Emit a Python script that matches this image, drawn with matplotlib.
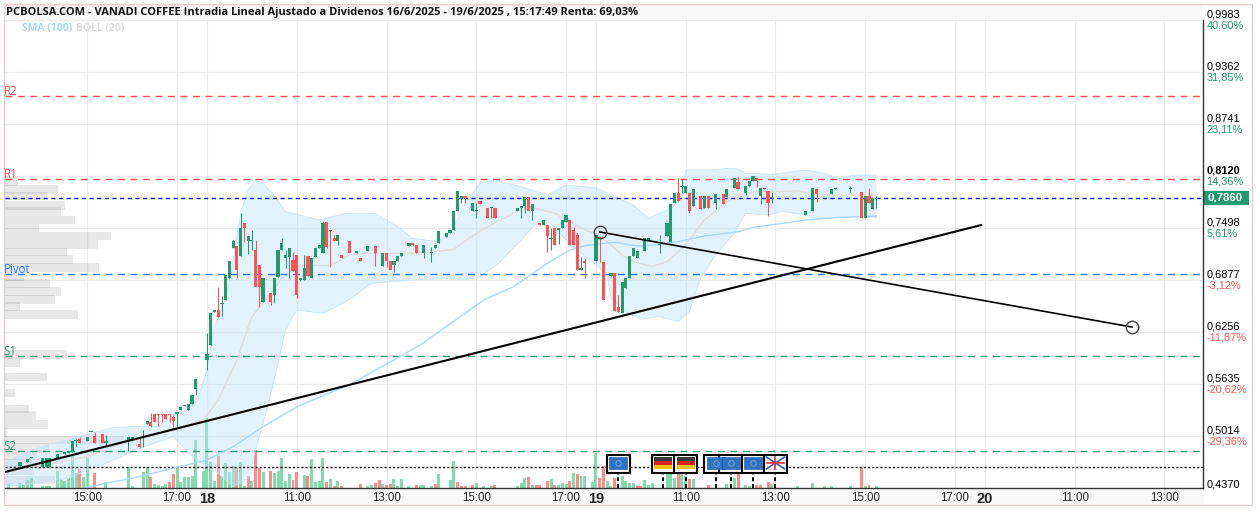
import matplotlib
matplotlib.use("Agg")
import matplotlib.pyplot as plt
from matplotlib.patches import Rectangle

FIG_W, FIG_H = 1257, 512
GREEN = "#22996e"
RED = "#ff5252"
PRICE_TOP = 0.9983
PRICE_BOTTOM = 0.4395

# candles, slot = one 5 minute bar
slots = [4, 6, 7, 10, 11, 12, 14, 16, 17, 18, 19, 20, 22, 23, 24, 26, 27, 33, 34, 36, 37, 38, 39, 40, 41, 42, 43, 44, 45, 46,
         47, 48, 49, 50, 51, 54, 55, 56, 57, 58, 59, 60, 61, 62, 63, 64, 65, 66, 67, 68, 69, 71, 72, 73, 74, 75, 76, 77, 78, 79,
         80, 81, 82, 83, 84, 85, 86, 87, 88, 89, 90, 92, 94, 95, 97, 99, 101, 102, 103, 104, 105, 106, 108, 109, 110, 112, 114, 115, 116, 118,
         119, 120, 121, 122, 123, 125, 126, 127, 129, 130, 131, 137, 138, 139, 140, 141, 143, 144, 145, 146, 147, 148, 149, 150, 151, 152, 153, 154, 155, 158,
         159, 160, 162, 163, 164, 165, 166, 167, 168, 169, 171, 172, 175, 177, 178, 179, 180, 181, 182, 183, 184, 186, 187, 188, 190, 192, 193, 195, 196, 198,
         199, 200, 201, 202, 203, 204, 205, 214, 216, 217, 221, 222, 226, 229, 230, 231, 232, 233]
opens = [.4662, .4702, .4749, .4642, .4642, .4642, .4749, .4801, .4809, .4829, .4960, .4976, .4956, .5060, .5020, .5036, .4936, .4956, .4964, .4920, .5000, .5163, .5179, .5275, .5275, .5275, .5275, .5275, .5243, .5275,
         .5322, .5374, .5326, .5398, .5577, .5923, .6103, .6500, .6520, .6590, .6640, .6899, .7257, .7285, .7165, .7555, .7344, .7340, .7237, .7058, .6612, .6719, .6700, .6910, .7237, .7145, .7149, .7117, .7177, .6879,
         .6879, .7165, .6906, .7149, .7261, .7197, .7567, .7472, .7376, .7344, .7173, .7344, .7205, .7137, .7225, .7285, .7046, .7197, .7105, .7058, .7105, .7165, .7285, .7316, .7296, .7205, .7195, .7257, .7324, .7396,
         .7444, .7476, .7702, .7846, .7882, .7702, .7700, .7822, .7742, .7735, .7742, .7706, .7742, .7766, .7874, .7702, .7563, .7535, .7535, .7370, .7503, .7476, .7496, .7575, .7595, .7476, .7416, .6998, .7105, .7106,
         .7396, .7090, .6927, .6959, .6553, .6481, .6787, .6899, .7169, .7138, .7225, .7356, .7300, .7404, .7329, .7802, .7914, .7990, .7914, .7914, .7766, .7882, .7735, .7882, .7794, .7902, .7874, .7981, .8053, .7914,
         .8001, .8061, .8093, .7882, .7973, .7942, .7860, .7655, .7703, .7965, .7902, .7965, .7960, .7934, .7623, .7886, .7727, .7850]
highs = [.4702, .4737, .4761, .4749, .4749, .4749, .4797, .4829, .4837, .4956, .4976, .5000, .5004, .5068, .5060, .5036, .5028, .5004, .5004, .4996, .5088, .5195, .5295, .5275, .5275, .5275, .5275, .5275, .5267, .5299,
         .5362, .5386, .5394, .5505, .5697, .6242, .6481, .6520, .6791, .6692, .6938, .7105, .7352, .7285, .7675, .7555, .7404, .7476, .7356, .7058, .6899, .6719, .6899, .7237, .7376, .7237, .7257, .7217, .7177, .6899,
         .7177, .7165, .7137, .7257, .7293, .7575, .7567, .7476, .7416, .7416, .7173, .7344, .7225, .7137, .7285, .7285, .7197, .7197, .7105, .7105, .7165, .7197, .7316, .7316, .7296, .7296, .7277, .7293, .7464, .7436,
         .7476, .7702, .7941, .7882, .7882, .7798, .7794, .7822, .7742, .7754, .7742, .7742, .7766, .7866, .7874, .7786, .7563, .7595, .7535, .7496, .7503, .7496, .7595, .7655, .7595, .7515, .7456, .7157, .7137, .7416,
         .7396, .7090, .6959, .6959, .6700, .6851, .6899, .7165, .7257, .7225, .7376, .7376, .7416, .7555, .7786, .7914, .8093, .8085, .8001, .7914, .7965, .7882, .7882, .7882, .7902, .7902, .7965, .8093, .8113, .8001,
         .8061, .8121, .8093, .7973, .7973, .7942, .7934, .7703, .7981, .7965, .7965, .7977, .8001, .7934, .7886, .7973, .7854, .7882]
lows = [.4662, .4702, .4749, .4642, .4642, .4642, .4749, .4801, .4809, .4829, .4889, .4928, .4956, .5060, .4928, .4936, .4909, .4837, .4964, .4869, .4889, .5163, .5135, .5183, .5135, .5187, .5215, .5187, .5127, .5127,
         .5322, .5374, .5326, .5398, .5505, .5804, .6103, .6500, .6437, .6453, .6640, .6899, .7257, .6899, .7165, .7336, .7189, .7237, .6791, .6552, .6612, .6580, .6600, .6910, .7237, .7018, .6899, .6986, .6660, .6866,
         .6879, .6926, .6906, .7149, .7261, .7197, .7257, .7038, .7344, .7296, .7141, .7197, .7205, .7109, .7225, .7046, .7046, .7038, .6998, .6978, .7105, .7165, .7285, .7296, .7197, .7137, .7098, .7257, .7324, .7396,
         .7444, .7476, .7702, .7794, .7794, .7702, .7615, .7786, .7615, .7615, .7615, .7706, .7615, .7675, .7702, .7595, .7535, .7535, .7217, .7237, .7296, .7308, .7496, .7575, .7296, .7296, .6998, .6998, .6899, .7106,
         .7098, .6640, .6927, .6513, .6501, .6481, .6787, .6899, .7169, .7138, .7225, .7356, .7197, .7404, .7329, .7802, .7822, .7914, .7914, .7675, .7766, .7727, .7735, .7735, .7727, .7782, .7874, .7981, .7965, .7894,
         .8001, .8061, .7993, .7782, .7965, .7647, .7794, .7655, .7703, .7814, .7902, .7965, .7934, .7615, .7623, .7794, .7727, .7735]
closes = [.4702, .4737, .4761, .4749, .4749, .4749, .4797, .4829, .4837, .4956, .4972, .4928, .5004, .5068, .4928, .4936, .4956, .5004, .5004, .4889, .5010, .5195, .5135, .5183, .5267, .5267, .5215, .5267, .5199, .5299,
         .5362, .5386, .5394, .5505, .5697, .5995, .6481, .6520, .6437, .6600, .6938, .7105, .7348, .6998, .7496, .7496, .7404, .7350, .6791, .6799, .6899, .6612, .6899, .7237, .7324, .7177, .7257, .6986, .6700, .6899,
         .7018, .6926, .7137, .7257, .7293, .7555, .7277, .7464, .7344, .7416, .7141, .7197, .7225, .7109, .7285, .7205, .7197, .7109, .6998, .7105, .7165, .7197, .7316, .7296, .7197, .7296, .7205, .7293, .7464, .7436,
         .7476, .7702, .7941, .7882, .7854, .7798, .7710, .7786, .7615, .7745, .7615, .7742, .7766, .7866, .7702, .7786, .7535, .7595, .7404, .7380, .7296, .7496, .7595, .7655, .7296, .7296, .6998, .7026, .7086, .7416,
         .7368, .6640, .6959, .6513, .6501, .6851, .6899, .7165, .7257, .7225, .7376, .7376, .7310, .7555, .7786, .7914, .7822, .8000, .8001, .7703, .7965, .7727, .7882, .7735, .7902, .7782, .7965, .8093, .7965, .8001,
         .8061, .8121, .8061, .7973, .7965, .7794, .7870, .7703, .7981, .7902, .7965, .7977, .7970, .7623, .7886, .7794, .7854, .7860]

# volume per slot
vol_up_slots = [1, 4, 5, 6, 7, 10, 11, 12, 14, 15, 16, 17, 18, 19, 21, 22, 27, 33, 34, 37, 38, 40, 41, 42, 43, 46, 47, 48, 49, 50, 51, 53, 54, 55, 56, 58, 59, 60, 61, 63, 64, 66, 69,
                72, 73, 74, 75, 76, 80, 82, 83, 84, 85, 87, 89, 97, 98, 101, 104, 105, 106, 108, 111, 112, 114, 116, 119, 120, 126, 128, 130, 137, 138, 139, 141, 146, 148, 149, 150, 152, 154, 155,
                157, 158, 161, 162, 165, 166, 167, 168, 171, 172, 173, 177, 178, 179, 181, 182, 184, 193, 195, 198, 199, 205, 212, 216, 219, 221, 226, 230, 233]
vol_up = [4, 5, 3, 8, 10, 2, 2, 2, 17, 8, 7, 10, 32, 15, 11, 31, 6, 21, 2, 16, 21, 4, 3, 2, 4, 21, 6, 11, 11, 12, 48, 17, 71, 26, 7, 12, 25, 16, 22, 26, 2, 7, 16,
          15, 17, 30, 7, 14, 13, 29, 6, 7, 30, 9, 7, 2, 3, 4, 9, 2, 9, 2, 3, 3, 2, 14, 8, 27, 5, 2, 2, 2, 5, 10, 3, 9, 3, 5, 4, 15, 12, 12,
          6, 35, 7, 2, 12, 7, 5, 5, 8, 3, 5, 16, 16, 10, 16, 12, 9, 4, 10, 3, 2, 4, 2, 5, 2, 2, 2, 2, 2]
vol_down_slots = [20, 24, 39, 44, 45, 57, 62, 65, 67, 68, 71, 77, 78, 81, 86, 88, 90, 95, 99, 100, 102, 103, 110, 115, 121, 122, 123, 125, 131, 140, 142, 143, 145, 147, 151, 153,
                  159, 160, 163, 169, 170, 180, 183, 188, 196, 201, 202, 204, 229, 231]
vol_down = [19, 15, 11, 6, 14, 32, 20, 12, 38, 20, 17, 8, 16, 12, 6, 2, 2, 4, 5, 8, 3, 4, 3, 4, 6, 2, 2, 3, 3, 11, 3, 3, 7, 3, 7, 14,
            10, 22, 10, 2, 2, 14, 9, 3, 16, 3, 3, 6, 21, 3]

# volume profile down the left edge: level and width in slots
profile_price = [.8057, .7961, .7882, .7770, .7695, .7595, .7499, .7404, .7304, .7213, .7125, .7030, .6922, .6839, .6743, .6648, .6560, .6469,
                 .5991, .5896, .5720, .5529, .5338, .5259, .5155, .5060, .4968, .4876, .4781, .4690, .4602, .4490]
profile_width = [3.4, 14.1, 11.2, 16, 15, 18.7, 9.1, 28.3, 24.9, 16.6, 18.2, 25, 5.2, 12.1, 15, 13.5, 4.1, 19.4,
                 16.6, 4.1, 11.2, 2.7, 6.3, 8.4, 11.4, 0.5, 31.9, 11.7, 8.6, 7.7, 7.7, 13.5]

# indicator curves
upper_slots = [0, 4, 10, 17, 23, 29, 34, 41, 45, 49, 52, 54, 56, 59, 61, 63, 65, 67, 69, 72, 75, 77, 84, 91, 99, 105, 109, 116, 120, 123, 127, 131, 138, 145, 150, 158,
               163, 168, 172, 177, 181, 182, 189, 193, 196, 198, 205, 214, 219, 223, 227, 233]
upper_band = [.4690, .4789, .4889, .4968, .5048, .5119, .5127, .5127, .5267, .5326, .5525, .5804, .6321, .6640, .7117, .7675, .7953, .8073, .8033, .7894, .7695, .7675, .7595, .7674, .7674, .7515, .7376, .7336, .7515, .7794, .8033, .8073, .7993, .7894, .8013, .7981,
              .7874, .7774, .7615, .7715, .7934, .8192, .8192, .8212, .8204, .8153, .8141, .8192, .8153, .8093, .8133, .8133]
lower_slots = [0, 8, 17, 22, 27, 33, 36, 45, 51, 57, 61, 65, 67, 70, 73, 75, 78, 85, 92, 98, 109, 120, 123, 127, 132, 138, 142, 145, 150, 154, 157, 161, 162, 166, 170, 175,
               180, 183, 186, 190, 195, 198, 204, 208, 214, 216, 221, 228, 233]
lower_band = [.4411, .4451, .4510, .4610, .4690, .4809, .4869, .5008, .4729, .4570, .4411, .4510, .4849, .5326, .5884, .6282, .6520, .6480, .6640, .6839, .6879, .6898, .6879, .6918, .7078, .7356, .7555, .7595, .7356, .7197, .7098, .6939, .6660, .6501, .6409, .6441,
              .6381, .6501, .6899, .7177, .7436, .7675, .7655, .7695, .7655, .7615, .7623, .7635, .7623]
mid_slots = [0, 8, 22, 34, 43, 53, 57, 62, 66, 70, 74, 79, 87, 92, 97, 102, 109, 115, 120, 124, 129, 136, 140, 147, 155, 158, 161, 165, 168, 173,
             177, 181, 184, 187, 192, 196, 201, 206, 212, 217, 222, 228, 232]
mid_band = [.4590, .4650, .4769, .4968, .5068, .5207, .5446, .5923, .6441, .6660, .6899, .7058, .7050, .7177, .7197, .7197, .7197, .7217, .7245, .7376, .7515, .7675, .7754, .7675, .7476, .7436, .7337, .7177, .7098, .7038,
            .7098, .7257, .7416, .7595, .7774, .7894, .7934, .7934, .7942, .7902, .7886, .7894, .7886]
sma_slots = [21, 27, 34, 43, 54, 61, 69, 75, 79, 92, 111, 128, 136, 145, 151, 156, 163, 169, 174, 180, 187, 196, 201, 208, 214, 222, 233]
sma_100 = [.4391, .4451, .4510, .4610, .4729, .4889, .5127, .5287, .5386, .5625, .6102, .6640, .6799, .7078, .7237, .7297, .7329, .7285, .7297, .7337, .7404, .7456, .7516, .7555, .7595, .7623, .7643]

# pivots
pivot_names = ["R2", "R1", "Pivot", "S1", "S2"]
pivot_levels = [.9076, .8085, .6950, .5971, .4837]
pivot_colors = [RED, RED, "#2979ff", GREEN, GREEN]
last_price = 0.7860
volume_ref = 0.4646

# trend lines, drawn by hand on the chart
trend_a_slots = [0, 261]
trend_a_price = [.4586, .7535]
trend_b_slots = [159, 301.3]
trend_b_price = [.7452, .6317]

# axis labels
time_ticks = [22, 46, 54, 78, 102, 126, 150, 158, 182, 206, 230, 254, 262, 286, 310]
time_labels = ["15:00", "17:00", "18", "11:00", "13:00", "15:00", "17:00", "19", "11:00", "13:00", "15:00", "17:00", "20", "11:00", "13:00"]
day_labels = ["18", "19", "20"]
price_ticks = [.9983, .9362, .8741, .8120, .7498, .6877, .6256, .5635, .5014]
price_labels = ["0,9983", "0,9362", "0,8741", "0,8120", "0,7498", "0,6877", "0,6256", "0,5635", "0,5014"]
pct_labels = ["40,60%", "31,85%", "23,11%", "14,36%", "5,61%", "-3,12%", "-11,87%", "-20,62%", "-29,36%"]

# calendar events: slot and flag
event_slots = [164, 176, 182, 190, 194, 200, 206]
event_flags = ["eu", "de", "de", "eu", "eu", "eu", "uk"]

title = "PCBOLSA.COM - VANADI COFFEE Intradia Lineal Ajustado a Dividenos 16/6/2025 - 19/6/2025 , 15:17:49 Renta: 69,03%"


def px_rect(fig, x0, y0, x1, y1, **kw):
    # rectangle on the figure given in pixels from the top left
    fig.add_artist(Rectangle((x0 / FIG_W, 1 - y1 / FIG_H), (x1 - x0) / FIG_W, (y1 - y0) / FIG_H,
                             transform=fig.transFigure, **kw))


def draw_flag(ax, slot, kind):
    x0, w = slot - 2.4, 4.8
    y0, h = 0.4624, 0.0140
    if kind == "eu":
        ax.add_patch(Rectangle((x0, y0), w, h, fc="#2f72c4", ec="#1c4f94", lw=0.4, zorder=9))
        ax.plot([slot], [y0 + h / 2], "o", ms=4, mfc="none", mec="#7fa9d8", mew=0.6, zorder=10)
    elif kind == "de":
        for k, col in enumerate(["#f2c200", "#d82020", "#3a3a3a"]):
            ax.add_patch(Rectangle((x0, y0 + k * h / 3), w, h / 3, fc=col, ec="none", zorder=9))
    else:
        ax.add_patch(Rectangle((x0, y0), w, h, fc="#ffffff", ec="#c8d0e8", lw=0.4, zorder=9))
        ax.plot([x0, x0 + w], [y0, y0 + h], color="#3a5db0", lw=1.2, zorder=10)
        ax.plot([x0, x0 + w], [y0 + h, y0], color="#3a5db0", lw=1.2, zorder=10)
        ax.plot([x0, x0 + w], [y0 + h / 2, y0 + h / 2], color="#e03030", lw=1.2, zorder=11)
        ax.plot([slot, slot], [y0, y0 + h], color="#e03030", lw=1.2, zorder=11)


fig = plt.figure(figsize=(FIG_W / 100, FIG_H / 100), dpi=100)
fig.patch.set_facecolor("white")
plt.rcParams["font.family"] = ["Liberation Sans", "DejaVu Sans"]

px_rect(fig, 5, 5, 1203, 20, fc="#f8f8f8", ec="none")
px_rect(fig, 5, 489, 1204, 505, fc="#f8f8f8", ec="none")
px_rect(fig, 4, 4, 1252, 505, fc="none", ec="#eccccc", lw=1)

rect = [5 / FIG_W, 1 - 488 / FIG_H, 1198 / FIG_W, 468 / FIG_H]
# three layers: grid at the bottom, then volume, then the price marks
ax_grid = fig.add_axes(rect)
ax_vol = fig.add_axes(rect, sharex=ax_grid)
ax = fig.add_axes(rect, sharex=ax_grid)
for a in [ax_grid, ax_vol, ax]:
    a.patch.set_visible(False)
ax.set_xlim(0, 320.3)
ax.set_ylim(PRICE_BOTTOM, PRICE_TOP)
ax_grid.set_ylim(PRICE_BOTTOM, PRICE_TOP)
ax_vol.set_ylim(0, 468)
ax_vol.axis("off")

ax.set_xticks(time_ticks)
ax.set_xticklabels(time_labels, fontsize=8.3, color="#222222")
for lab in ax.get_xticklabels():
    if lab.get_text() in day_labels:
        lab.set_fontsize(10.5)
        lab.set_fontweight("bold")
ax.tick_params(length=0, pad=3)
ax.set_yticks(price_ticks)
ax.set_yticklabels([])
ax_grid.set_yticks(price_ticks)
ax_grid.set_yticklabels([])
ax_grid.tick_params(length=0, labelbottom=False)
ax_grid.grid(True, color="#ececec", lw=0.9)
for side in ax_grid.spines:
    ax_grid.spines[side].set_visible(False)
for side in ["top", "left"]:
    ax.spines[side].set_visible(False)
for side in ["right", "bottom"]:
    ax.spines[side].set_color("#333333")
    ax.spines[side].set_linewidth(1)

# volume
ax_vol.bar(vol_up_slots, vol_up, width=0.8, color="#7fdcab", zorder=1)
ax_vol.bar(vol_down_slots, vol_down, width=0.8, color="#ff8a8a", zorder=1)

# volume profile
ax.barh(profile_price, profile_width, height=0.0104, color="#000000", alpha=0.09, lw=0, zorder=1)

# bollinger band + sma
ax.fill(upper_slots + lower_slots[::-1], upper_band + lower_band[::-1],
        fc="#bfe3fa", alpha=0.45, ec="none", zorder=1.5)
ax.plot(upper_slots, upper_band, color="#bfe3fa", lw=0.5, zorder=1.6)
ax.plot(lower_slots, lower_band, color="#bfe3fa", lw=0.5, zorder=1.6)
ax.plot(mid_slots, mid_band, color="#dedede", lw=1.1, zorder=1.7)
ax.plot(sma_slots, sma_100, color="#a8d8fb", lw=1.0, zorder=2.5)

# pivots
for name, level, col in zip(pivot_names, pivot_levels, pivot_colors):
    ax.plot([0, 319.5], [level, level], color=col, lw=1, dashes=(5, 4), zorder=2)
    ax.annotate(name, (0, level), xytext=(-1, -1.5), textcoords="offset points", fontsize=8.3, color=col,
                family=["Open Sans", "DejaVu Sans"], va="bottom", ha="left", zorder=6)
ax.plot([0, 320.3], [last_price, last_price], color="#0000ff", lw=1, dashes=(3, 2.5), zorder=2)
ax.plot([0, 320.3], [volume_ref, volume_ref], color="black", lw=1, dashes=(1.5, 1.5), zorder=2)

# candles
for s, o, h, l, c in zip(slots, opens, highs, lows, closes):
    col = GREEN if c >= o else RED
    ax.plot([s, s], [l, h], color=col, lw=0.75, solid_capstyle="butt", zorder=3)
    ax.bar(s, max(abs(c - o), 0.0012), bottom=min(o, c), width=0.85, color=col, lw=0, zorder=4)

# trend lines
ax.plot(trend_a_slots, trend_a_price, color="black", lw=1.5, zorder=5)
ax.plot(trend_b_slots, trend_b_price, color="black", lw=1.2, zorder=5)
ax.plot(trend_b_slots, trend_b_price, "o", ms=9, mfc="none", mec="#444444", mew=1, zorder=5)

# calendar events
for s in event_slots:
    ax.plot([s, s], [PRICE_BOTTOM, 0.4574], color="black", lw=1.4, dashes=(2, 1.5), zorder=7)
for s, flag in zip(event_slots, event_flags):
    ax.add_patch(Rectangle((s - 3.05, 0.4574), 6.1, 0.0215, fc="white", ec="black", lw=1.5, zorder=8))
    draw_flag(ax, s, flag)

# price scale text
for p, lab, pct in zip(price_ticks, price_labels, pct_labels):
    ax.annotate(lab, (1, p), xycoords=("axes fraction", "data"), xytext=(2.5, 3.9), textcoords="offset points",
                fontsize=7.9, color="black", va="center", ha="left", annotation_clip=False,
                fontweight="bold" if lab == "0,8120" else "normal")
    ax.annotate(pct, (1, p), xycoords=("axes fraction", "data"), xytext=(2.5, -3.9), textcoords="offset points",
                fontsize=7.9, color=RED if pct.startswith("-") else GREEN, va="center", ha="left", annotation_clip=False)
ax.annotate("0,4370", (1, PRICE_BOTTOM), xycoords=("axes fraction", "data"), xytext=(2.5, 2.5), textcoords="offset points",
            fontsize=7.9, color="black", va="center", ha="left", annotation_clip=False)
ax.annotate("0,7860", (1, last_price), xycoords=("axes fraction", "data"), xytext=(3, 0), textcoords="offset points",
            fontsize=8.2, color="white", fontweight="bold", va="center", ha="left", annotation_clip=False, zorder=9)
px_rect(fig, 1203, 191, 1249, 205, fc=GREEN, ec="none", zorder=1)
ax.set_zorder(2)

# header
fig.text(6 / FIG_W, 1 - 12.5 / FIG_H, title, fontsize=8.0, fontweight="bold", color="#111111",
         family=["Open Sans", "DejaVu Sans"], va="center", ha="left")
fig.text(22 / FIG_W, 1 - 28 / FIG_H, "SMA (100)", fontsize=7.5, fontweight="bold", color="#a8d8fb",
         family=["Open Sans", "DejaVu Sans"], va="center", ha="left")
fig.text(76 / FIG_W, 1 - 28 / FIG_H, "BOLL (20)", fontsize=7.5, fontweight="bold", color="#dedede",
         family=["Open Sans", "DejaVu Sans"], va="center", ha="left")

fig.savefig("out.png", dpi=100, facecolor="white")
